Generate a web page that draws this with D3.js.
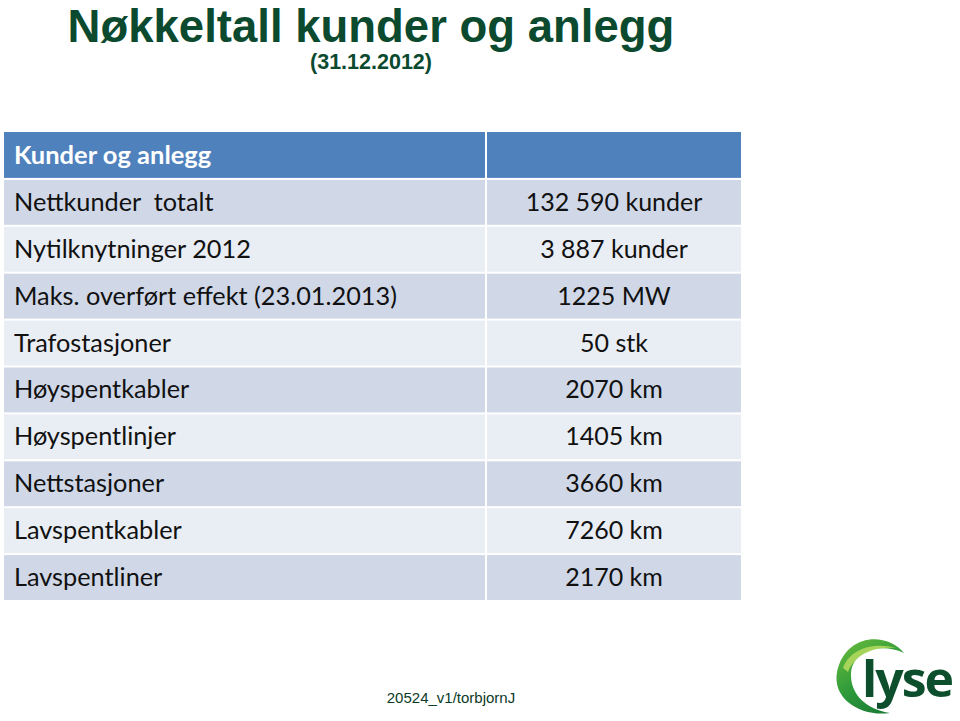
<!DOCTYPE html>
<html><head><meta charset="utf-8">
<script src="https://cdn.jsdelivr.net/npm/d3@7"></script>
<style>body{margin:0;background:#fff;}svg{display:block;} text{white-space:pre;}</style>
</head><body>
<script>
const headerLabels = ["Kunder og anlegg", ""];
const rowLabels = ["Nettkunder  totalt","Nytilknytninger 2012","Maks. overført effekt (23.01.2013)","Trafostasjoner","Høyspentkabler","Høyspentlinjer","Nettstasjoner","Lavspentkabler","Lavspentliner"];
const rowValues = ["132 590 kunder","3 887 kunder","1225 MW","50 stk","2070 km","1405 km","3660 km","7260 km","2170 km"];
const titleText = "Nøkkeltall kunder og anlegg";
const subtitleText = "(31.12.2012)";
const footerText = "20524_v1/torbjornJ";

const W = 960, H = 721;
const svg = d3.select("body").append("svg").attr("width", W).attr("height", H);

svg.append("text").attr("x", 371).attr("y", 42).attr("text-anchor","middle")
  .attr("font-family","Liberation Sans, Arial").attr("font-weight","bold").attr("font-size",45.5)
  .attr("fill","#0B4A2E").text(titleText);
svg.append("text").attr("x", 371).attr("y", 69).attr("text-anchor","middle")
  .attr("font-family","Liberation Sans, Arial").attr("font-weight","bold").attr("font-size",21.5)
  .attr("fill","#0B4A2E").text(subtitleText);

const rows = ["__header"].concat(rowLabels);
const y = d3.scaleBand().domain(rows).range([132, 601]).paddingInner(0);
const x = d3.scaleOrdinal().domain([0,1]).range([4, 487]);
const colW = [482, 254];
const gap = 2;

const g = svg.append("g");
rows.forEach((r, i) => {
  const fill = i === 0 ? "#4F81BD" : (i % 2 === 1 ? "#D0D8E8" : "#E9EDF4");
  [0,1].forEach(c => {
    g.append("rect").attr("x", x(c)).attr("y", y(r) + (i===0?0:gap/2))
      .attr("width", colW[c] - (c===0?gap/2:0)).attr("height", y.bandwidth() - (i===0?gap/2:gap))
      .attr("fill", fill);
  });
  const ty = y(r) + y.bandwidth()/2 + 8.5;
  if (i === 0) {
    g.append("text").attr("x", 14).attr("y", ty).attr("font-family","Lato, Open Sans")
      .attr("font-weight","bold").attr("font-size",25.5).attr("fill","#fff").text(headerLabels[0]);
  } else {
    g.append("text").attr("x", 14).attr("y", ty).attr("font-family","Lato, Open Sans")
      .attr("font-size",25.3).attr("fill","#111").text(rowLabels[i-1]);
    g.append("text").attr("x", 614).attr("y", ty).attr("text-anchor","middle").attr("font-family","Lato, Open Sans")
      .attr("font-size",25).attr("fill","#111").text(rowValues[i-1]);
  }
});

svg.append("text").attr("x", 451).attr("y", 703).attr("text-anchor","middle")
  .attr("font-family","Liberation Sans, Arial").attr("font-size",15).attr("fill","#0B3A26").text(footerText);

// Logo
const defs = svg.append("defs");
const grad = defs.append("linearGradient").attr("id","lg1").attr("x1","0").attr("y1","0").attr("x2","0.6").attr("y2","1");
grad.append("stop").attr("offset","0").attr("stop-color","#6DBE3C");
grad.append("stop").attr("offset","0.6").attr("stop-color","#2E9A3A");
grad.append("stop").attr("offset","1").attr("stop-color","#1B7F35");
const lg = svg.append("g");
lg.append("path").attr("d","M904,653 C886,631 845,634 837,672 C832,700 862,717 890,713 C866,709 851,695 851,675 C851,651 880,642 904,653 Z")
  .attr("fill","url(#lg1)");
lg.append("path").attr("d","M843,668 C850,648 875,642 896,648 C874,646 855,654 848,672 Z").attr("fill","#A6D45A");
lg.append("text").attr("x", 862).attr("y", 697).attr("font-family","Open Sans, DejaVu Sans").attr("font-weight","bold")
  .attr("font-size",50).attr("letter-spacing",-2).attr("fill","#0D4F2C").text("lyse");
</script>
</body></html>
